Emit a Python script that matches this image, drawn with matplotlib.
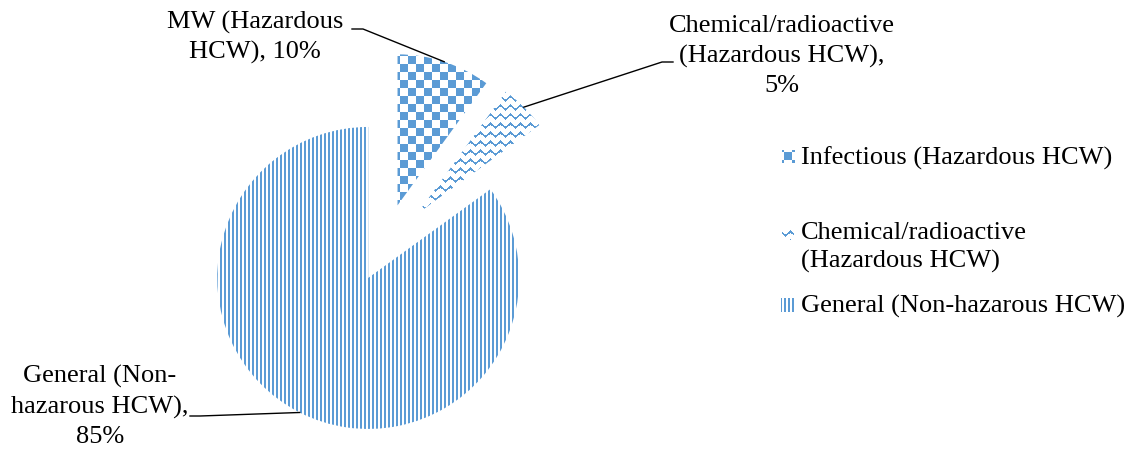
import numpy as np
import matplotlib.pyplot as plt
from matplotlib.colors import to_rgb
from matplotlib.patches import Rectangle

plt.rcParams['font.family'] = 'Liberation Serif'

# data
categories = ['Infectious (Hazardous HCW)',
              'Chemical/radioactive\n(Hazardous HCW)',
              'General (Non-hazarous HCW)']
label_fmt = ['MW (Hazardous\nHCW), {}%',
             'Chemical/radioactive\n(Hazardous HCW),\n{}%',
             'General (Non-\nhazarous HCW),\n{}%']
shares = [10, 5, 85]
explode_frac = [0.29, 0.31, 0.23]

W, H = 1139, 449
R = 151
blue = '#5B9BD5'
fs = 19

fig = plt.figure(figsize=(W / 100, H / 100), dpi=100)
ax = fig.add_axes([0, 0, 1, 1])

# matplotlib's explode is in data units, so scale by the radius
wedges, _ = ax.pie(shares, explode=[f * R for f in explode_frac], startangle=90,
                   counterclock=False, radius=R, center=(384, H - 247),
                   wedgeprops=dict(facecolor='none', edgecolor='none', linewidth=0))

# fill patterns in pixel space (y from top)
yy, xx = np.mgrid[0:H, 0:W]
checker = ((xx // 8) + (yy // 8)) % 2 == 0
tri = np.abs((xx % 10) - 5) * 0.8
waves = ((yy + tri) % 9) < 2.2
stripes = (xx % 4) < 2
patterns = [checker, waves, stripes]
# legend swatch: checker shifted so the swatch is mostly blue
leg_patterns = [((xx // 8) + (yy // 8) + 1) % 2 == 0, waves, stripes]


def pattern_img(mask):
    img = np.zeros((H, W, 4))
    img[mask, :3] = to_rgb(blue)
    img[mask, 3] = 1
    return img


def fill(patch, mask):
    im = ax.imshow(pattern_img(mask), extent=(0, W, 0, H), origin='upper',
                   interpolation='nearest', zorder=2)
    im.set_clip_path(patch)


for w, m in zip(wedges, patterns):
    fill(w, m)


# data labels with leader lines
def arc_mid(w):
    ang = np.deg2rad((w.theta1 + w.theta2) / 2)
    return w.center[0] + w.r * np.cos(ang), w.center[1] + w.r * np.sin(ang)


# (x centre, baseline of last line) in pixels from top-left
label_pos = [(255, 59), (782, 92), (100, 443)]
knees = [[(352, 29), (363, 29)], [(673, 62), (662, 62)], [(190, 416), (200, 416)]]
for w, v, fmt, (lx, ly), kn in zip(wedges, shares, label_fmt, label_pos, knees):
    ax.text(lx, H - ly, fmt.format(v), ha='center', va='baseline', fontsize=fs,
            linespacing=1.42)
    mx, my = arc_mid(w)
    xs = [kn[0][0], kn[1][0], mx]
    ys = [H - kn[0][1], H - kn[1][1], my]
    ax.plot(xs, ys, color='black', lw=1, zorder=3)

# legend
leg_y = [165, 268, 313]
leg_box = [(782, 150, 13), (782, 228, 12), (781, 298, 14)]
for cat, m, ly, (bx, by, bs) in zip(categories, leg_patterns, leg_y, leg_box):
    box = Rectangle((bx, H - by - bs), bs, bs, facecolor='none', edgecolor='none')
    ax.add_patch(box)
    fill(box, m)
    ax.text(801, H - ly, cat, ha='left', va='baseline', fontsize=fs, linespacing=1.38)

ax.set_xlim(0, W)
ax.set_ylim(0, H)
ax.set_aspect('auto')
ax.axis('off')

fig.savefig('out.png', dpi=100)
